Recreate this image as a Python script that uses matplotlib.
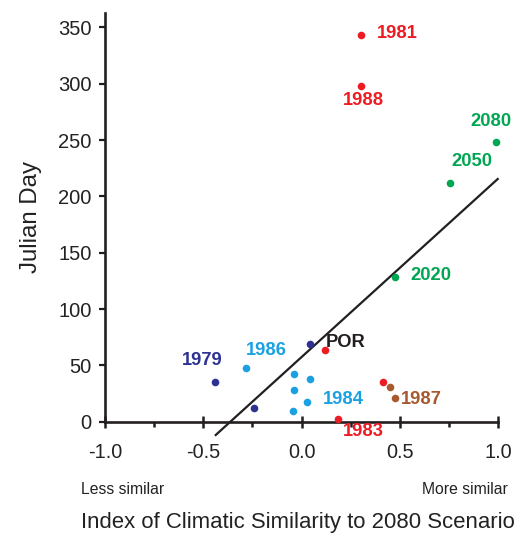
import matplotlib
matplotlib.use("Agg")
import matplotlib.pyplot as plt
from matplotlib.ticker import MultipleLocator

plt.rcParams['font.family'] = ['Liberation Sans', 'DejaVu Sans']

# ---- data ----
red_x = [0.30, 0.30, 0.12, 0.186, 0.415]
red_y = [343, 298, 63.6, 2.1, 35.2]
green_x = [0.99, 0.753, 0.474]
green_y = [248, 212, 128.7]
cyan_x = [-0.284, -0.038, -0.038, -0.045, 0.028, 0.042]
cyan_y = [48, 42.3, 28.1, 9.2, 17.7, 37.9]
navy_x = [-0.442, -0.242, 0.042]
navy_y = [35, 11.9, 68.7]
brown_x = [0.448, 0.474]
brown_y = [30.5, 20.8]
fit_x = [-0.437, 0.997]
fit_y = [-11.8, 215.4]

labels = ["1981", "1988", "2080", "2050", "2020", "1979", "1986", "POR", "1984", "1987", "1983"]
label_x = [0.384, 0.314, 0.965, 0.866, 0.553, -0.508, -0.178, 0.125, 0.108, 0.506, 0.21]
label_y = [344.6, 285.5, 266, 231.3, 130.2, 54.7, 63, 70.1, 20.1, 19.3, -8.3]
label_ha = ["left", "center", "center", "center", "left", "center", "center", "left", "left", "left", "left"]

RED = "#ED1C24"
GREEN = "#00A651"
CYAN = "#1BA1E2"
NAVY = "#2E3192"
BROWN = "#A65A2E"
BLACK = "#231F20"
label_colors = [RED, RED, GREEN, GREEN, GREEN, NAVY, CYAN, BLACK, CYAN, BROWN, RED]

fig = plt.figure(figsize=(5.16, 5.33), dpi=100)
ax = fig.add_axes([105/516, 1-421.7/533, (498.3-105)/516, (421.7-12.7)/533])

ax.plot(fit_x, fit_y, color=BLACK, lw=1.6, clip_on=False, zorder=2)
ms = 30
ax.scatter(red_x, red_y, s=ms, color=RED, zorder=3, clip_on=False, linewidths=0)
ax.scatter(green_x, green_y, s=ms, color=GREEN, zorder=3, clip_on=False, linewidths=0)
ax.scatter(cyan_x, cyan_y, s=ms, color=CYAN, zorder=3, clip_on=False, linewidths=0)
ax.scatter(navy_x, navy_y, s=ms, color=NAVY, zorder=3, clip_on=False, linewidths=0)
ax.scatter(brown_x, brown_y, s=ms, color=BROWN, zorder=3, clip_on=False, linewidths=0)

for t, x, y, ha, c in zip(labels, label_x, label_y, label_ha, label_colors):
    ax.text(x, y, t, color=c, ha=ha, va="center", fontsize=13.2, fontweight="bold", clip_on=False)

ax.set_xlim(-1, 1)
ax.set_ylim(0, 363)
ax.set_xticks([-1.0, -0.5, 0.0, 0.5, 1.0])
ax.set_xticklabels(["-1.0", "-0.5", "0.0", "0.5", "1.0"])
ax.xaxis.set_minor_locator(MultipleLocator(0.25))
ax.set_yticks([0, 50, 100, 150, 200, 250, 300, 350])

for s in ["top", "right"]:
    ax.spines[s].set_visible(False)
for s in ["left", "bottom"]:
    ax.spines[s].set_linewidth(1.9)
    ax.spines[s].set_color(BLACK)

ax.tick_params(axis="x", which="major", direction="inout", length=8, width=1.8,
               labelsize=14.3, pad=11, colors=BLACK, labelcolor="#222222")
ax.tick_params(axis="x", which="minor", direction="out", length=3.5, width=1.8, colors=BLACK)
ax.tick_params(axis="y", which="major", direction="out", length=4.5, width=1.6,
               labelsize=14.5, pad=5, colors=BLACK, labelcolor="#222222")

ax.set_ylabel("Julian Day", fontsize=17.3, color="#222222", labelpad=12)

fig.text(80.7/516, 1-494/533, "Less similar", fontsize=11.3, ha="left", va="baseline", color="#222222")
fig.text(508/516, 1-494/533, "More similar", fontsize=11.3, ha="right", va="baseline", color="#222222")
fig.text(80.7/516, 1-528/533, "Index of Climatic Similarity to 2080 Scenario", fontsize=15.9,
         ha="left", va="baseline", color="#222222")

fig.savefig("out.png", dpi=100)
